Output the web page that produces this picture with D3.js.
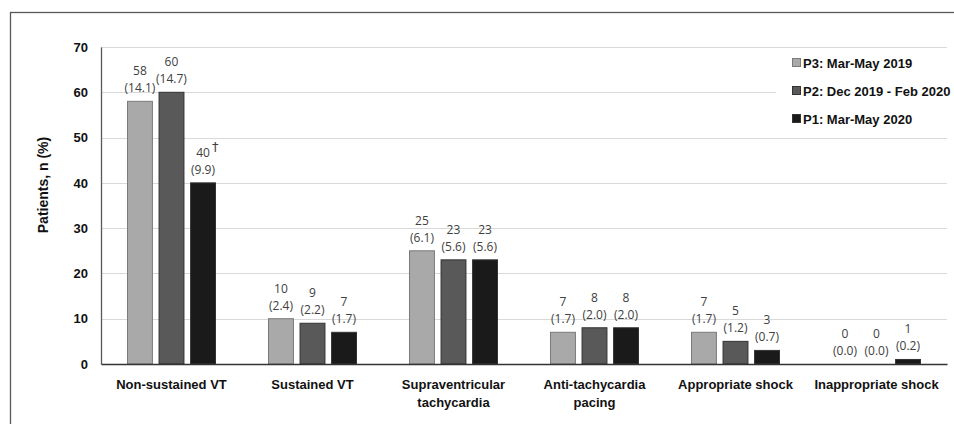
<!DOCTYPE html>
<html>
<head>
<meta charset="utf-8">
<script src="https://cdn.jsdelivr.net/npm/d3@7"></script>
<style>
  body { margin: 0; background: #fff; }
  svg { display: block; }
</style>
</head>
<body>
<svg id="chart"></svg>
<script>
// values
const categories = ["Non-sustained VT", "Sustained VT", "Supraventricular\ntachycardia",
    "Anti-tachycardia\npacing", "Appropriate shock", "Inappropriate shock"]
const seriesNames = ["P3: Mar-May 2019", "P2: Dec 2019 - Feb 2020", "P1: Mar-May 2020"]
const p3Counts = [58, 10, 25, 7, 7, 0]
const p3Pct = ["14.1", "2.4", "6.1", "1.7", "1.7", "0.0"]
const p2Counts = [60, 9, 23, 8, 5, 0]
const p2Pct = ["14.7", "2.2", "5.6", "2.0", "1.2", "0.0"]
const p1Counts = [40, 7, 23, 8, 3, 1]
const p1Pct = ["9.9", "1.7", "5.6", "2.0", "0.7", "0.2"]
const p1Marks = ["†", "", "", "", "", ""]
const yTicks = [0, 10, 20, 30, 40, 50, 60, 70]

const colors = ["#a9a9a9", "#595959", "#1a1a1a"]
const counts = [p3Counts, p2Counts, p1Counts]
const pcts = [p3Pct, p2Pct, p1Pct]
const marks = [null, null, p1Marks]

const width = 954
const height = 424
const margin = { top: 47, right: 7, bottom: 60, left: 101 }

const svg = d3.select("#chart")
    .attr("width", width)
    .attr("height", height)

// outer frame
svg.append("rect")
    .attr("x", 10.5).attr("y", 12.5)
    .attr("width", width).attr("height", height)
    .attr("fill", "none")
    .attr("stroke", "#595959")
    .attr("stroke-width", 1.3)

const x = d3.scaleBand()
    .domain(categories)
    .range([margin.left, width - margin.right])
    .paddingInner(0.376)
    .paddingOuter(0.188)

const xInner = d3.scaleBand()
    .domain([0, 1, 2])
    .range([0, x.bandwidth()])
    .paddingInner(0.21)

const y = d3.scaleLinear()
    .domain([0, 70])
    .range([height - margin.bottom, margin.top])

// gridlines
svg.append("g")
    .selectAll("line")
    .data(yTicks.slice(1))
    .enter().append("line")
    .attr("x1", margin.left).attr("x2", width - margin.right)
    .attr("y1", d => Math.round(y(d)) + 0.5).attr("y2", d => Math.round(y(d)) + 0.5)
    .attr("stroke", "#d9d9d9")
    .attr("stroke-width", 1.2)

// y axis
const yAxis = svg.append("g")
    .attr("transform", `translate(${margin.left},0)`)
    .call(d3.axisLeft(y).tickValues(yTicks).tickSize(0).tickPadding(13))
yAxis.select(".domain").attr("stroke", "#595959").attr("stroke-width", 1.3)
yAxis.selectAll("text")
    .attr("font-family", "Liberation Sans Narrow, Liberation Sans, Arial, sans-serif")
    .attr("font-weight", "bold")
    .attr("font-size", 13)
    .attr("fill", "#111")

svg.append("text")
    .attr("transform", `translate(48,${185}) rotate(-90)`)
    .attr("text-anchor", "middle")
    .attr("font-family", "Liberation Sans, Arial, sans-serif")
    .attr("font-weight", "bold")
    .attr("font-size", 14)
    .attr("fill", "#111")
    .text("Patients, n (%)")

// bars
const groups = svg.append("g")
    .selectAll("g")
    .data(categories)
    .enter().append("g")
    .attr("transform", d => `translate(${x(d)},0)`)

groups.each(function(cat, ci) {
    const g = d3.select(this)
    const rows = [0, 1, 2].map(si => ({ si: si, v: counts[si][ci], p: pcts[si][ci],
        m: marks[si] ? marks[si][ci] : "" }))

    g.selectAll("rect")
        .data(rows)
        .enter().append("rect")
        .attr("x", d => xInner(d.si))
        .attr("y", d => y(d.v))
        .attr("width", xInner.bandwidth())
        .attr("height", d => y(0) - y(d.v))
        .attr("fill", d => colors[d.si])
        .attr("stroke", d => d.si == 0 ? "#7a7a7a" : "#333")
        .attr("stroke-width", d => d.v > 0 ? 1 : 0)

    const lab = g.selectAll("text.val")
        .data(rows)
        .enter().append("text")
        .attr("class", "val")
        .attr("text-anchor", "middle")
        .attr("font-family", "Open Sans, sans-serif")
        .attr("font-size", 12)
        .attr("fill", "#404040")
    lab.append("tspan")
        .attr("x", d => xInner(d.si) + xInner.bandwidth() / 2)
        .attr("y", d => y(d.v) - 26)
        .text(d => d.v)
    lab.append("tspan")
        .attr("x", d => xInner(d.si) + xInner.bandwidth() / 2)
        .attr("y", d => y(d.v) - 9)
        .text(d => `(${d.p})`)

    g.selectAll("text.mark")
        .data(rows.filter(d => d.m))
        .enter().append("text")
        .attr("class", "mark")
        .attr("x", d => xInner(d.si) + xInner.bandwidth() / 2 + 9)
        .attr("y", d => y(d.v) - 32)
        .attr("font-family", "DejaVu Sans, sans-serif")
        .attr("font-size", 13)
        .attr("fill", "#404040")
        .text(d => d.m)
})

// x axis
const xAxis = svg.append("g")
    .attr("transform", `translate(0,${y(0)})`)
    .call(d3.axisBottom(x).tickSize(0).tickSizeOuter(0).tickFormat(""))
xAxis.select(".domain").attr("stroke", "#333").attr("stroke-width", 1.5)

const xl = svg.append("g")
    .selectAll("text")
    .data(categories)
    .enter().append("text")
    .attr("text-anchor", "middle")
    .attr("font-family", "Liberation Sans, Arial, sans-serif")
    .attr("font-weight", "bold")
    .attr("font-size", 13)
    .attr("fill", "#111")
xl.selectAll("tspan")
    .data(d => d.split("\n").map(t => ({ t: t, c: d })))
    .enter().append("tspan")
    .attr("x", d => x(d.c) + x.bandwidth() / 2)
    .attr("y", (d, i) => y(0) + 25 + i * 18)
    .text(d => d.t)

// legend
svg.append("rect")
    .attr("x", 776).attr("y", 52)
    .attr("width", width - 776).attr("height", 78)
    .attr("fill", "#fff")
const li = svg.append("g")
    .selectAll("g")
    .data(seriesNames)
    .enter().append("g")
    .attr("transform", (d, i) => `translate(792,${63 + i * 28})`)
li.append("rect")
    .attr("x", 0.5).attr("y", -4.5)
    .attr("width", 8).attr("height", 8)
    .attr("fill", (d, i) => colors[i])
    .attr("stroke", (d, i) => i == 0 ? "#7a7a7a" : "#333")
li.append("text")
    .attr("x", 11)
    .attr("y", 5)
    .attr("font-family", "Liberation Sans, Arial, sans-serif")
    .attr("font-weight", "bold")
    .attr("font-size", 13)
    .attr("fill", "#111")
    .text(d => d)
</script>
</body>
</html>
